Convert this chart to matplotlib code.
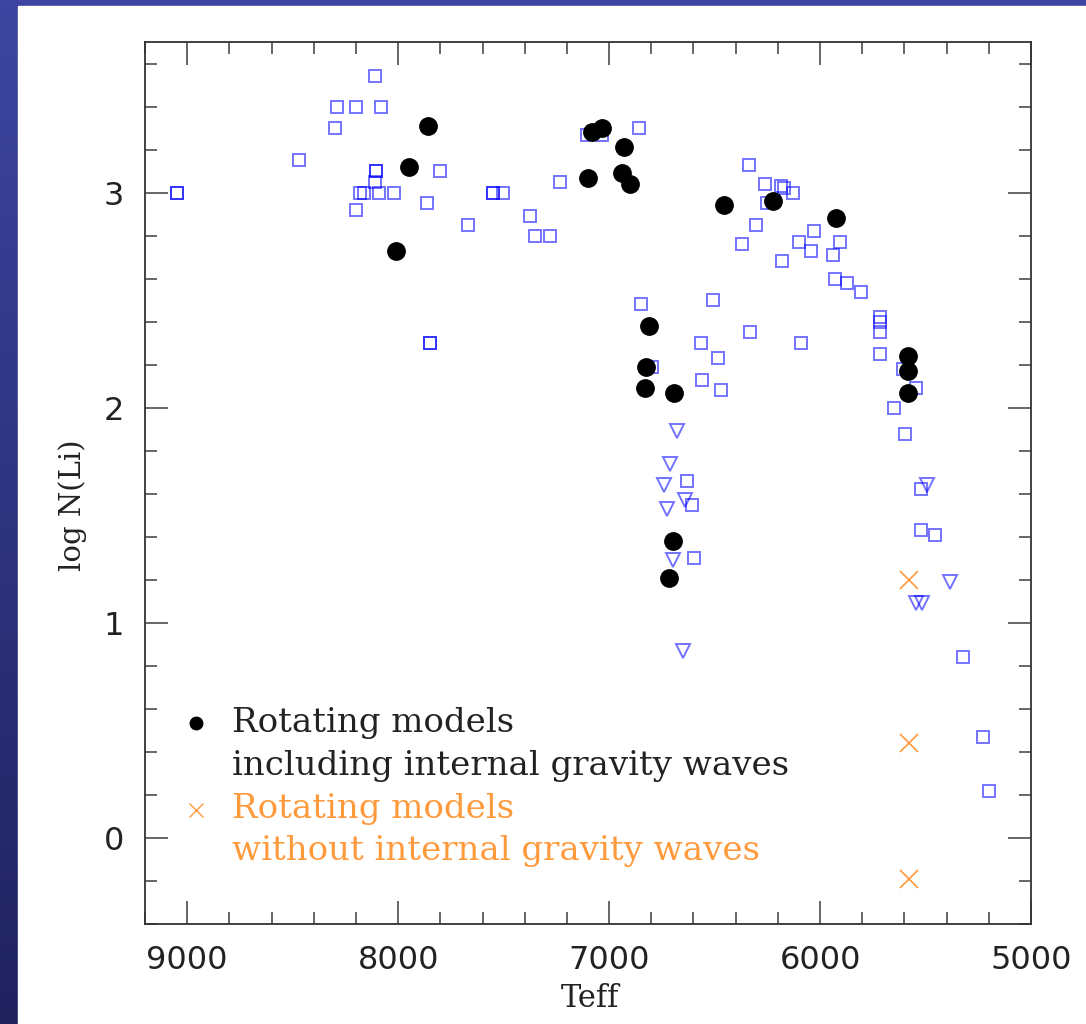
import numpy as np
import matplotlib
matplotlib.use("Agg")
import matplotlib.pyplot as plt
from matplotlib.patches import Rectangle
from matplotlib.ticker import MultipleLocator

# observed stars (open squares): Teff, log N(Li)
obs_teff = [9050, 9050, 8110, 8290, 8200, 8080, 8300, 8470, 8103, 8103, 8111, 7800,
            8182, 8163, 8090, 8020, 8200, 7865, 7670, 7849, 7849, 7549, 7549, 7501,
            7375, 7351, 7280, 7232, 7105, 7034, 6860,
            6339, 6260, 6185, 6172, 6127, 6250, 6302, 6369, 6180, 6100, 6029, 6045,
            5904, 5939, 5931, 5871, 5807, 5717, 5717, 5717, 5717, 5605, 5546, 5650,
            5599, 6849, 6509, 6330, 6565, 6089, 6485, 6797, 6559, 6469, 6631, 6607,
            6596, 5520, 5520, 5456, 5320, 5228, 5198]
obs_li = [3.00, 3.00, 3.54, 3.40, 3.40, 3.40, 3.30, 3.15, 3.10, 3.10, 3.05, 3.10,
          3.00, 3.00, 3.00, 3.00, 2.92, 2.95, 2.85, 2.30, 2.30, 3.00, 3.00, 3.00,
          2.89, 2.80, 2.80, 3.05, 3.27, 3.27, 3.30,
          3.13, 3.04, 3.03, 3.02, 3.00, 2.95, 2.85, 2.76, 2.68, 2.77, 2.82, 2.73,
          2.77, 2.71, 2.60, 2.58, 2.54, 2.42, 2.40, 2.35, 2.25, 2.18, 2.09, 2.00,
          1.88, 2.48, 2.50, 2.35, 2.30, 2.30, 2.23, 2.19, 2.13, 2.08, 1.66, 1.55,
          1.30, 1.62, 1.43, 1.41, 0.84, 0.47, 0.22]

# upper limits (open down triangles)
lim_teff = [6678, 6710, 6738, 6639, 6726, 6699, 6650, 5491, 5384, 5546, 5515]
lim_li = [1.89, 1.74, 1.64, 1.57, 1.53, 1.29, 0.87, 1.64, 1.19, 1.09, 1.09]

# rotating models with internal gravity waves
igw_teff = [7857, 7948, 8008, 7098, 7082, 7034, 6927, 6939, 6900, 6457, 6222,
            5923, 6813, 6824, 6829, 6694, 6699, 6715, 5581, 5581, 5581]
igw_li = [3.31, 3.12, 2.73, 3.07, 3.28, 3.30, 3.21, 3.09, 3.04, 2.94, 2.96,
          2.88, 2.38, 2.19, 2.09, 2.07, 1.38, 1.21, 2.24, 2.17, 2.07]

# rotating models without internal gravity waves
rot_teff = [5576, 5576, 5576]
rot_li = [1.20, 0.44, -0.19]

orange = "#ff9a3c"

fig = plt.figure(figsize=(10.86, 10.24), dpi=100)

# slide background: blue frame with a darker left edge, white panel
bg = fig.add_axes([0, 0, 1, 1])
bg.set_axis_off()
grad = np.linspace(0, 1, 256).reshape(-1, 1)
top_c = np.array([61, 69, 160]) / 255
bot_c = np.array([32, 34, 94]) / 255
img = top_c[None, None, :] * (1 - grad[:, :, None]) + bot_c[None, None, :] * grad[:, :, None]
bg.imshow(img, extent=[0, 1, 0, 1], aspect="auto", origin="upper")
bg.add_patch(Rectangle((18 / 1086, 0), 1, 1 - 6 / 1024, color="white"))
bg.set_xlim(0, 1)
bg.set_ylim(0, 1)

ax = fig.add_axes([145 / 1086, 1 - 924 / 1024, 886 / 1086, 882 / 1024])
ax.plot(obs_teff, obs_li, linestyle="none", marker="s", ms=8.2, mfc="none",
        mec="blue", mew=1.4, alpha=0.55, zorder=2)
ax.plot(lim_teff, lim_li, linestyle="none", marker="v", ms=10, mfc="none",
        mec="blue", mew=1.4, alpha=0.55, zorder=2)
ax.plot(igw_teff, igw_li, linestyle="none", marker="o", ms=12.5, color="black", zorder=3)
ax.plot(rot_teff, rot_li, linestyle="none", marker="x", ms=13, mew=1.2,
        color=orange, zorder=3)

ax.set_xlim(9200, 5000)
ax.set_ylim(-0.4, 3.7)
ax.xaxis.set_major_locator(MultipleLocator(1000))
ax.xaxis.set_minor_locator(MultipleLocator(200))
ax.yaxis.set_major_locator(MultipleLocator(1))
ax.yaxis.set_minor_locator(MultipleLocator(0.2))
ax.tick_params(which="both", direction="in", top=True, right=True,
               color="#666666", width=1.4, labelsize=23, labelcolor="#222222",
               pad=15)
ax.tick_params(which="major", length=16.5)
ax.tick_params(which="minor", length=8.5)
for s in ax.spines.values():
    s.set_linewidth(1.3)
    s.set_color("#333333")

ax.set_xlabel("Teff", family="DejaVu Serif", fontsize=22, color="#222222", va="center")
ax.xaxis.set_label_coords(0.502, -0.084)
ax.set_ylabel("log N(Li)", family="DejaVu Serif", fontsize=21, color="#222222", va="center")
ax.yaxis.set_label_coords(-0.082, 0.475)

# hand-made legend
ax.plot([0.058], [0.228], transform=ax.transAxes, marker="o", ms=9,
        color="black", linestyle="none", clip_on=False)
ax.plot([0.058], [0.129], transform=ax.transAxes, marker="x", ms=10, mew=1.0,
        color=orange, linestyle="none", clip_on=False)
legend_lines = ["Rotating models", "including internal gravity waves",
                "Rotating models", "without internal gravity waves"]
legend_colors = ["#222222", "#222222", orange, orange]
legend_y = [0.218, 0.169, 0.120, 0.0726]
for txt, c, y in zip(legend_lines, legend_colors, legend_y):
    ax.text(0.0979, y, txt, transform=ax.transAxes, family="DejaVu Serif",
            fontsize=24.5, color=c, va="baseline", ha="left")

fig.savefig("out.png", dpi=100)
